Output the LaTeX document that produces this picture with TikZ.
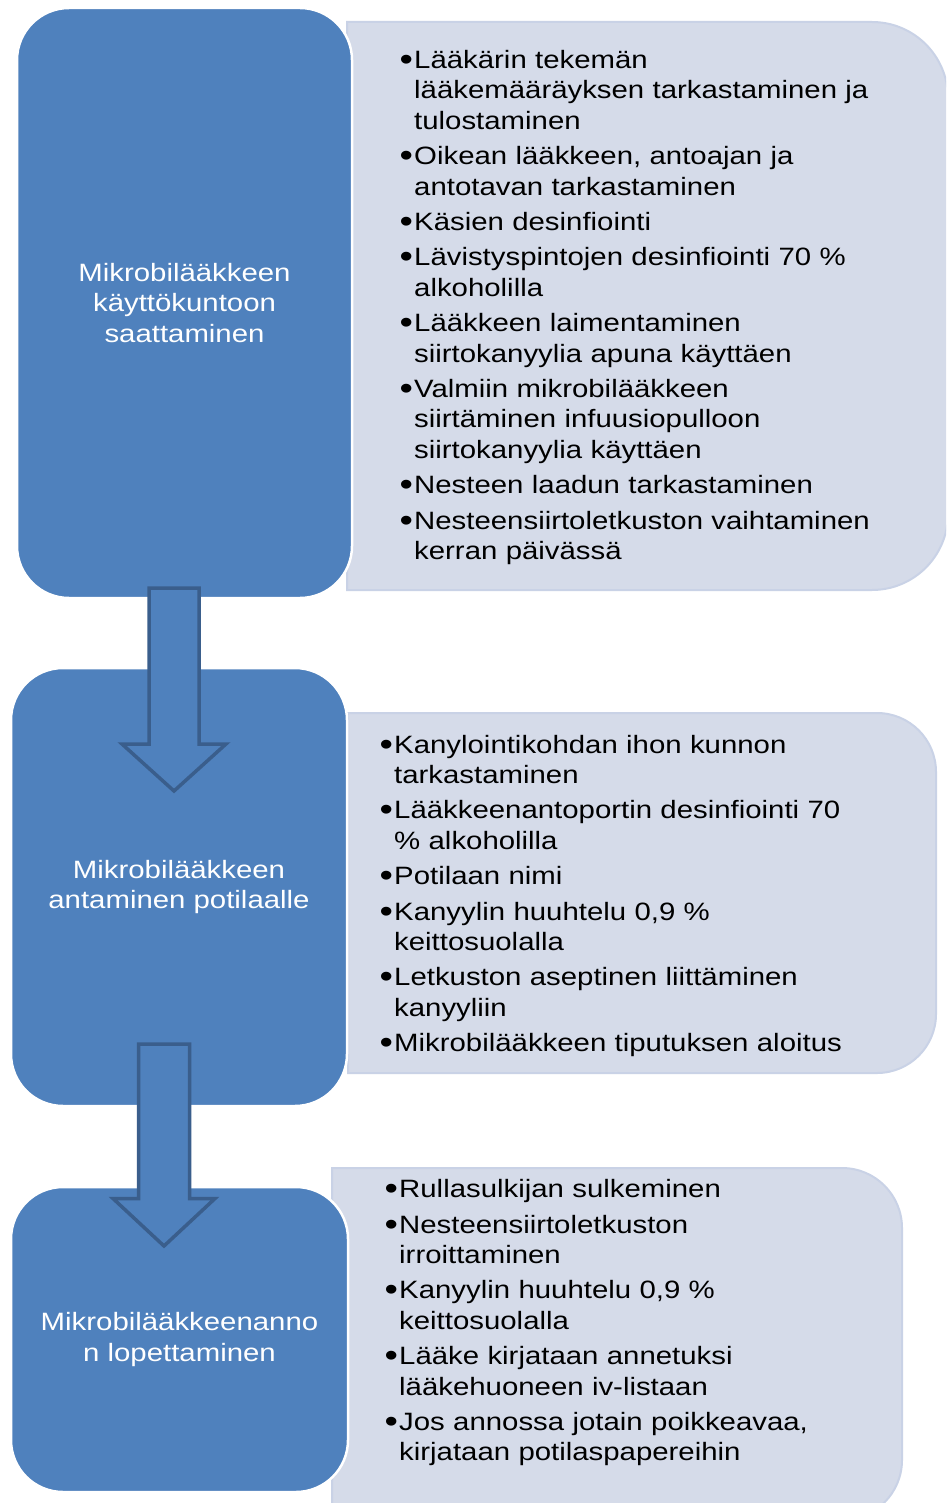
\documentclass[tikz,border=0pt]{standalone}
\usepackage{fontspec}
\setmainfont{Liberation Sans}[FakeStretch=1.17]
\definecolor{mainblue}{HTML}{4F81BD}
\definecolor{darkblue}{HTML}{3A5E8C}
\definecolor{lightfill}{HTML}{D5DBE9}
\definecolor{lightedge}{HTML}{C9D2E6}
\newcommand\bitem[1]{\par\hangindent=14pt\hangafter=1\noindent\makebox[14pt][l]{\hspace{-0.5pt}\raisebox{-2pt}{\scalebox{1.3}{\textbullet}}}#1\par}
\tikzset{
  bluebox/.style={draw=white, line width=2.5pt, fill=mainblue, rounded corners=52pt,
    text=white, align=center, inner sep=0pt, font=\fontsize{25.1pt}{30.2pt}\selectfont},
  lightbox/.style={draw=lightedge, line width=2pt, fill=lightfill},
  blockarrow/.style={draw=darkblue, line width=3.5pt, fill=mainblue, line join=miter},
  listtext/.style={anchor=north west, inner sep=0pt, align=left,
    font=\fontsize{25.1pt}{30.4pt}\selectfont\setlength{\parskip}{5pt}}
}
\begin{document}
\begin{tikzpicture}[x=1pt,y=1pt]
\clip (0,0) rectangle (946,-1503);
\fill[white] (0,0) rectangle (946,-1503);
% light boxes
\draw[lightbox] (347,-22) -- (872,-22) arc[start angle=90,end angle=0,radius=76pt]
  -- (948,-514) arc[start angle=0,end angle=-90,radius=76pt] -- (347,-590) -- cycle;
\draw[lightbox] (348,-713) -- (877,-713) arc[start angle=90,end angle=0,radius=59pt]
  -- (936,-1014) arc[start angle=0,end angle=-90,radius=59pt] -- (348,-1073) -- cycle;
\draw[lightbox] (332,-1168) -- (842,-1168) arc[start angle=90,end angle=0,radius=60pt]
  -- (902,-1460) arc[start angle=0,end angle=-90,radius=60pt] -- (332,-1520) -- cycle;
% blue boxes
\node[bluebox, minimum width=335pt, minimum height=590pt] (b1) at (184.5,-303)
  {Mikrobilääkkeen\\käyttökuntoon\\saattaminen};
\node[bluebox, minimum width=336pt, minimum height=438pt] (b2) at (179,-887)
  {Mikrobilääkkeen\\antaminen potilaalle};
\node[bluebox, minimum width=337pt, minimum height=305pt] (b3) at (179.5,-1339.5)
  {Mikrobilääkkeenanno\\n lopettaminen};
% block arrows
\draw[blockarrow] (149,-588) -- (199,-588) -- (199,-744) -- (226,-744) -- (174,-791)
  -- (122,-744) -- (149,-744) -- cycle;
\draw[blockarrow] (138.5,-1044) -- (189.5,-1044) -- (189.5,-1198.5) -- (215,-1198.5)
  -- (164,-1246) -- (113,-1198.5) -- (138.5,-1198.5) -- cycle;
% list texts
\node[listtext, text width=540pt] (t1) at (400,-33) {%
\bitem{\rule{0pt}{20pt}Lääkärin tekemän\newline lääkemääräyksen tarkastaminen ja\newline tulostaminen}
\bitem{Oikean lääkkeen, antoajan ja\newline antotavan tarkastaminen}
\bitem{Käsien desinfiointi}
\bitem{Lävistyspintojen desinfiointi 70 \%\newline alkoholilla}
\bitem{Lääkkeen laimentaminen\newline siirtokanyylia apuna käyttäen}
\bitem{Valmiin mikrobilääkkeen\newline siirtäminen infuusiopulloon\newline siirtokanyylia käyttäen}
\bitem{Nesteen laadun tarkastaminen}
\bitem{Nesteensiirtoletkuston vaihtaminen\newline kerran päivässä}};
\node[listtext, text width=540pt] (t2) at (380,-717.5) {%
\bitem{\rule{0pt}{20pt}Kanylointikohdan ihon kunnon\newline tarkastaminen}
\bitem{Lääkkeenantoportin desinfiointi 70\newline \% alkoholilla}
\bitem{Potilaan nimi}
\bitem{Kanyylin huuhtelu 0,9 \%\newline keittosuolalla}
\bitem{Letkuston aseptinen liittäminen\newline kanyyliin}
\bitem{Mikrobilääkkeen tiputuksen aloitus}};
\node[listtext, text width=500pt] (t3) at (385,-1162) {%
\bitem{\rule{0pt}{20pt}Rullasulkijan sulkeminen}
\bitem{Nesteensiirtoletkuston\newline irroittaminen}
\bitem{Kanyylin huuhtelu 0,9 \%\newline keittosuolalla}
\bitem{Lääke kirjataan annetuksi\newline lääkehuoneen iv-listaan}
\bitem{Jos annossa jotain poikkeavaa,\newline kirjataan potilaspapereihin}};
\end{tikzpicture}
\end{document}
